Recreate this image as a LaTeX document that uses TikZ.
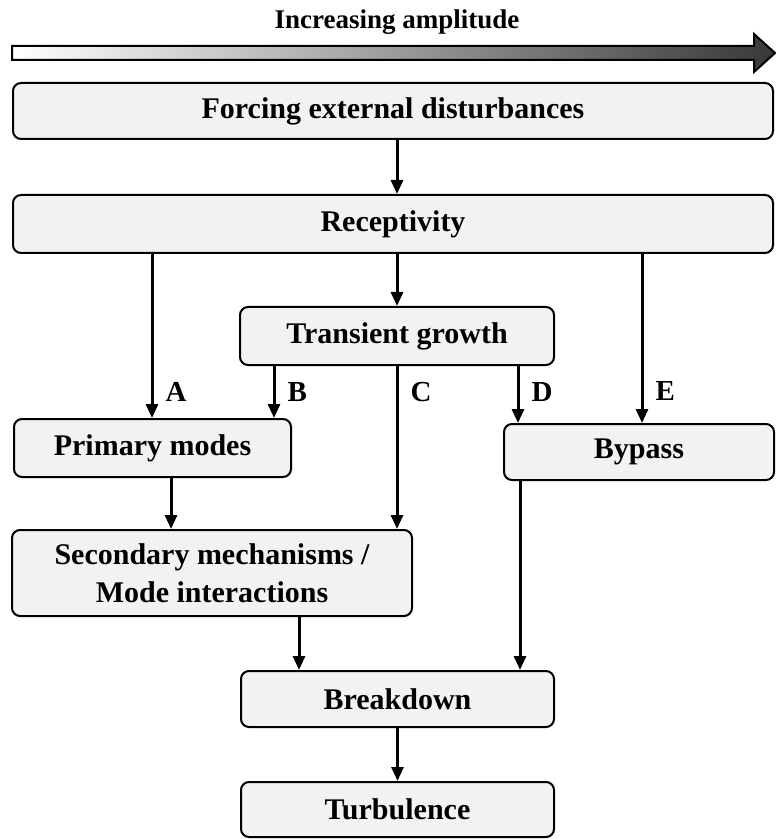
\documentclass[tikz,border=0pt]{standalone}
\usepackage{fontspec}
\setmainfont{Liberation Serif}
\usetikzlibrary{positioning,arrows.meta}

\begin{document}
\begin{tikzpicture}[x=0.5pt, y=-0.5pt,
    box/.style={draw, line width=1pt, rounded corners=4pt, fill=black!5, align=center, inner sep=0pt,
        font=\fontsize{15}{19}\selectfont\bfseries},
    arr/.style={line width=1.5pt, -{Triangle[length=7pt,width=6pt]}},
    lbl/.style={right=5pt, inner sep=1pt, font=\fontsize{14.5}{17}\selectfont\bfseries}]
    \useasboundingbox (0,0) rectangle (775,839);

    \shade[left color=white, right color=black!78] (12,46) -- (754,46) -- (754,34) -- (775,53) -- (754,72) -- (754,60) -- (12,60) -- cycle;
    \draw[line width=1pt] (12,46) -- (754,46) -- (754,34) -- (775,53) -- (754,72) -- (754,60) -- (12,60) -- cycle;
    \node[font=\fontsize{13.5}{16}\selectfont\bfseries] (amp) at (397,22) {Increasing amplitude};

    \node[box, minimum width=380pt, minimum height=28pt] (forcing) at (393,111) {Forcing external disturbances};
    \node[box, minimum width=380pt, minimum height=29pt] (recep) at (393,224) {Receptivity};
    \node[box, minimum width=157pt, minimum height=29pt] (trans) at (397,336) {Transient growth};
    \node[box, minimum width=138.5pt, minimum height=29pt] (prim) at (152.5,448) {Primary modes};
    \node[box, minimum width=135pt, minimum height=28pt] (bypass) at (639,452) {Bypass};
    \node[box, minimum width=200pt, minimum height=43pt] (second) at (212,573) {Secondary mechanisms /\\Mode interactions};
    \node[box, minimum width=156.5pt, minimum height=28pt] (brk) at (397.5,699) {Breakdown};
    \node[box, minimum width=156.5pt, minimum height=27.5pt] (turb) at (397.5,809.5) {Turbulence};

    \coordinate (colA) at (152,0);
    \coordinate (colB) at (274,0);
    \coordinate (colD) at (518,0);
    \coordinate (colE) at (642,0);
    \coordinate (colP) at (171,0);
    \coordinate (colS) at (299,0);
    \coordinate (colY) at (520,0);

    \draw[arr] (forcing.south -| trans) -- (recep.north -| trans);
    \draw[arr] (recep.south -| trans) -- (trans.north);
    \draw[arr] (recep.south -| colA) -- node[lbl, pos=0.84] {A} (prim.north -| colA);
    \draw[arr] (trans.south -| colB) -- node[lbl] {B} (prim.north -| colB);
    \draw[arr] (trans.south) -- node[lbl, pos=0.16] {C} (second.north -| trans);
    \draw[arr] (trans.south -| colD) -- node[lbl, pos=0.46] {D} (bypass.north -| colD);
    \draw[arr] (recep.south -| colE) -- node[lbl, pos=0.81] {E} (bypass.north -| colE);
    \draw[arr] (prim.south -| colP) -- (second.north -| colP);
    \draw[arr] (second.south -| colS) -- (brk.north -| colS);
    \draw[arr] (bypass.south -| colY) -- (brk.north -| colY);
    \draw[arr] (brk) -- (turb);
\end{tikzpicture}
\end{document}
